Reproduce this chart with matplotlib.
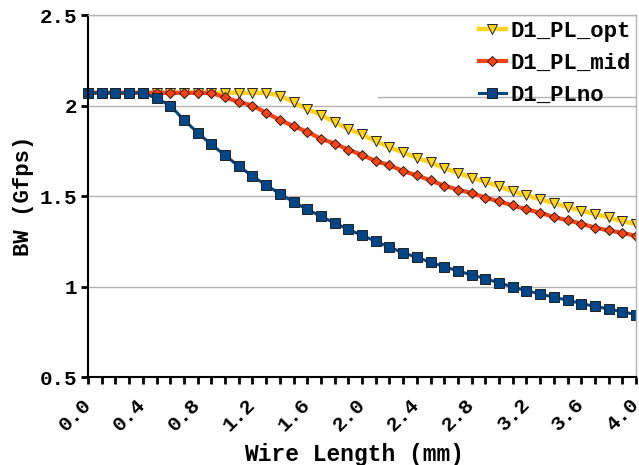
import matplotlib
matplotlib.use("Agg")
import matplotlib.pyplot as plt
from matplotlib.patches import Rectangle
from matplotlib.ticker import MultipleLocator, FormatStrFormatter

# Datos
wire_mm = [0.0, 0.1, 0.2, 0.3, 0.4, 0.5, 0.6, 0.7, 0.8, 0.9,
           1.0, 1.1, 1.2, 1.3, 1.4, 1.5, 1.6, 1.7, 1.8, 1.9,
           2.0, 2.1, 2.2, 2.3, 2.4, 2.5, 2.6, 2.7, 2.8, 2.9,
           3.0, 3.1, 3.2, 3.3, 3.4, 3.5, 3.6, 3.7, 3.8, 3.9, 4.0]

bw_opt = [2.07, 2.07, 2.07, 2.07, 2.07, 2.07, 2.07, 2.07, 2.07, 2.07,
          2.07, 2.07, 2.07, 2.07, 2.055, 2.018, 1.98, 1.949, 1.908, 1.871,
          1.84, 1.803, 1.77, 1.741, 1.711, 1.686, 1.654, 1.629, 1.601, 1.579,
          1.553, 1.526, 1.504, 1.482, 1.461, 1.439, 1.419, 1.40, 1.382, 1.36, 1.346]

bw_mid = [2.07, 2.07, 2.07, 2.07, 2.07, 2.07, 2.07, 2.07, 2.07, 2.07,
          2.045, 2.02, 2.0, 1.96, 1.92, 1.886, 1.855, 1.816, 1.79, 1.756,
          1.727, 1.693, 1.67, 1.638, 1.614, 1.586, 1.557, 1.535, 1.516, 1.491,
          1.47, 1.448, 1.426, 1.408, 1.384, 1.366, 1.347, 1.325, 1.31, 1.296, 1.28]

bw_no = [2.07, 2.07, 2.07, 2.07, 2.07, 2.04, 2.0, 1.92, 1.85, 1.785,
         1.725, 1.665, 1.61, 1.56, 1.513, 1.467, 1.426, 1.388, 1.351, 1.315,
         1.283, 1.25, 1.217, 1.187, 1.161, 1.134, 1.11, 1.086, 1.064, 1.044,
         1.02, 0.998, 0.976, 0.96, 0.94, 0.925, 0.906, 0.89, 0.876, 0.86, 0.845]

plt.rcParams['font.family'] = ['Liberation Mono', 'DejaVu Sans Mono']
plt.rcParams['font.weight'] = 'bold'

fig = plt.figure(figsize=(6.39, 4.65), dpi=100)
ax = fig.add_axes([88 / 639, 88 / 465, 548 / 639, 362 / 465])

gris = '#b3b3b3'
ax.yaxis.grid(True, color=gris, linewidth=1)
ax.set_axisbelow(True)

lineas = []
lineas += ax.plot(wire_mm, bw_opt, color='#ffd320', linewidth=3.2, marker='v',
                  markersize=7.3, markerfacecolor='#ffd320', markeredgecolor='#222222',
                  markeredgewidth=0.7, label='D1_PL_opt')
lineas += ax.plot(wire_mm, bw_mid, color='#ff420e', linewidth=3.0, marker='D',
                  markersize=5.4, markerfacecolor='#ff420e', markeredgecolor='#222222',
                  markeredgewidth=0.7, label='D1_PL_mid')
lineas += ax.plot(wire_mm, bw_no, color='#004586', linewidth=2.2, marker='s',
                  markersize=7.6, markerfacecolor='#004586', markeredgecolor='#222222',
                  markeredgewidth=0.7, label='D1_PLno')

# recorte: a la izquierda los marcadores salen del eje, a la derecha no
clip = Rectangle((-0.05, -0.1), 1.05, 1.2, transform=ax.transAxes)
for ln in lineas:
    ln.set_clip_path(clip)

ax.set_xlim(0, 4.0)
ax.set_ylim(0.5, 2.5)

ax.xaxis.set_major_locator(MultipleLocator(0.4))
ax.xaxis.set_minor_locator(MultipleLocator(0.1))
ax.xaxis.set_major_formatter(FormatStrFormatter('%.1f'))
ax.yaxis.set_major_locator(MultipleLocator(0.5))
ax.yaxis.set_major_formatter(FormatStrFormatter('%g'))

ax.tick_params(axis='x', which='both', direction='out', length=5, width=2,
               color='black', labelsize=15, pad=13)
ax.tick_params(axis='y', direction='out', length=5, width=2, color='black',
               labelsize=15, pad=3)
for lbl in ax.get_xticklabels():
    lbl.set_rotation(45)
    lbl.set_ha('right')
    lbl.set_va('center')
    lbl.set_rotation_mode('anchor')

for s in ['left', 'bottom']:
    ax.spines[s].set_color('black')
    ax.spines[s].set_linewidth(1.5)
for s in ['top', 'right']:
    ax.spines[s].set_color(gris)
    ax.spines[s].set_linewidth(1)

ax.set_xlabel('Wire Length (mm)', fontsize=16.5, fontweight='bold', va='center')
ax.xaxis.set_label_coords(0.486, -0.213)
ax.set_ylabel('BW (Gfps)', fontsize=16, fontweight='bold', va='center')
ax.yaxis.set_label_coords(-0.118, 0.5)

# Leyenda sin marco; solo queda el borde inferior gris del cuadro
leg = ax.legend(loc='upper right', fontsize=16, frameon=False,
                borderaxespad=0, handlelength=1.2, handletextpad=0.2,
                labelspacing=0.5, borderpad=0.25)
for t in leg.get_texts():
    t.set_fontweight('bold')
ax.plot([0.53, 1.0], [0.7735, 0.7735], color=gris, linewidth=1,
        transform=ax.transAxes, zorder=1.5)

fig.savefig('out.png', dpi=100)
